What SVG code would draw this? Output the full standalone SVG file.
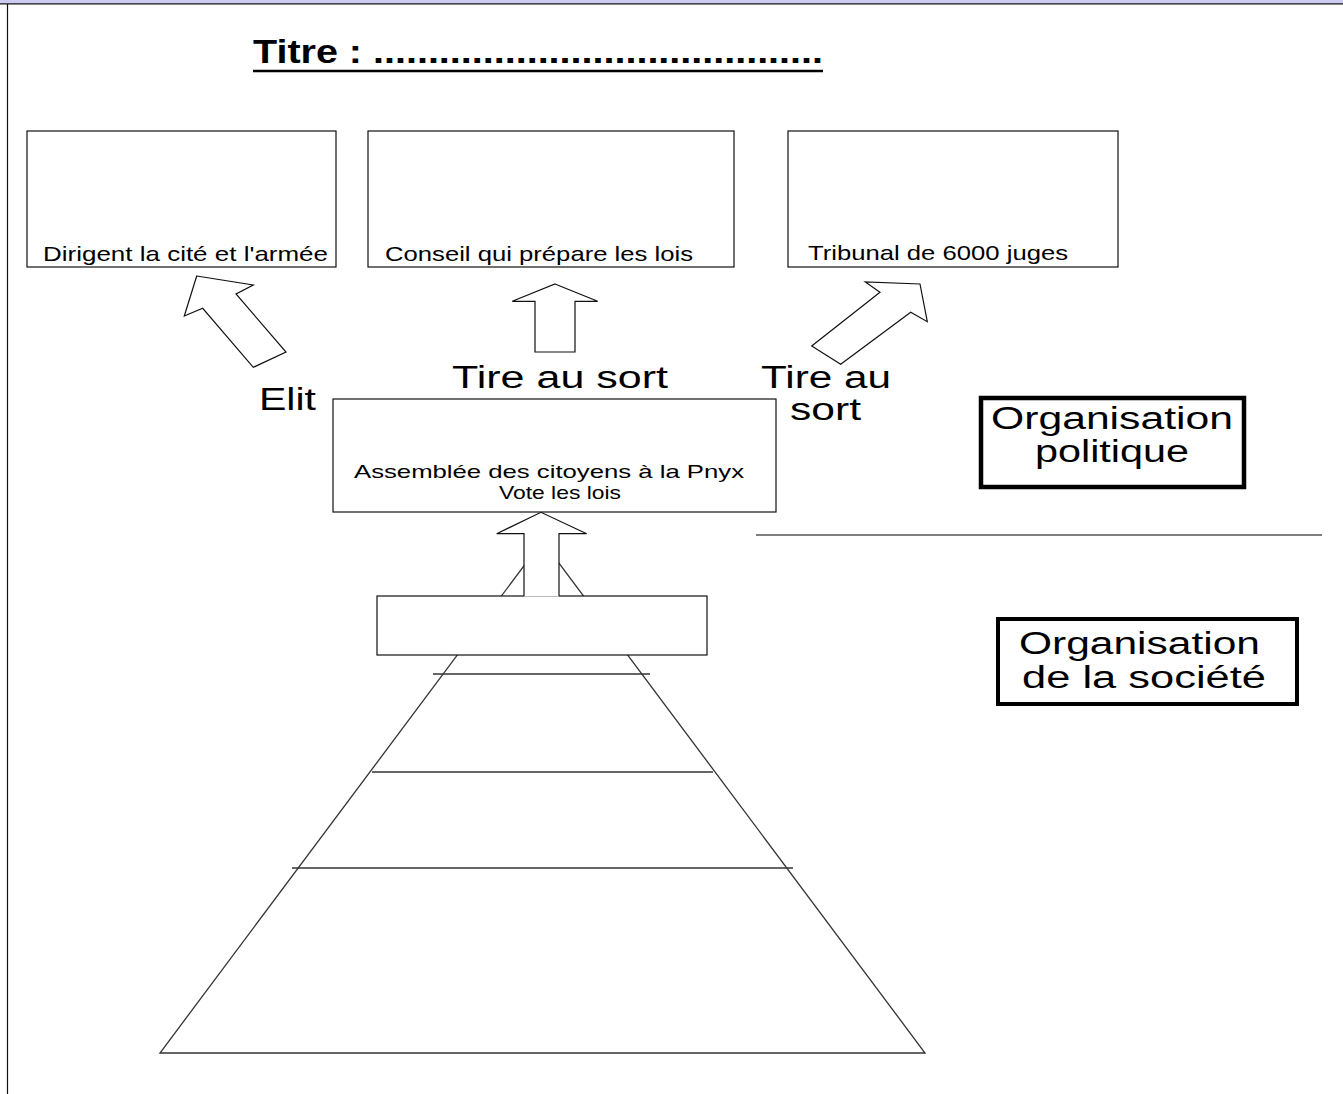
<svg xmlns="http://www.w3.org/2000/svg" width="1343" height="1094" viewBox="0 0 1343 1094">
<style>
.box{fill:#fff;stroke:#111;stroke-width:1.2}
.thick{fill:#fff;stroke:#000;stroke-width:4.5}
.arr{fill:#fff;stroke:#111;stroke-width:1.2;stroke-linejoin:miter}
.ln{stroke:#333;stroke-width:1.3;fill:none}
.sm{font-family:"Liberation Sans",Arial,sans-serif;font-size:21px;fill:#000}
.as{font-family:"Liberation Sans",Arial,sans-serif;font-size:18.5px;fill:#000}
.lg{font-family:"Liberation Sans",Arial,sans-serif;font-size:31px;fill:#000}
.tt{font-family:"Liberation Sans",Arial,sans-serif;font-size:34px;font-weight:bold;fill:#000}
</style>
<rect x="0" y="0" width="1343" height="1094" fill="#fff"/>
<rect x="0" y="0" width="1343" height="3.5" fill="#cbcbf4"/>
<line x1="0" y1="3.8" x2="1343" y2="3.8" stroke="#111" stroke-width="1.2"/>
<line x1="7.5" y1="4" x2="7.5" y2="1094" stroke="#111" stroke-width="1.2"/>

<g id="title">
<text x="253" y="63" class="tt" textLength="570" lengthAdjust="spacingAndGlyphs">Titre : .........................................</text>
<line x1="253" y1="71" x2="823" y2="71" stroke="#000" stroke-width="2.5"/>
</g>

<g id="pyramid">
<polygon points="160,1053 925,1053 542.5,541" class="ln"/>
<line x1="433" y1="674" x2="650" y2="674" class="ln"/>
<line x1="372" y1="772" x2="713" y2="772" class="ln"/>
<line x1="292" y1="868" x2="793" y2="868" class="ln"/>
</g>

<g id="pyramid-top">
<rect x="377" y="596" width="330" height="59" class="box"/>
</g>

<g id="box-dirigent">
<rect x="27" y="131" width="309" height="136" class="box"/>
<text x="43" y="261" class="sm" textLength="285" lengthAdjust="spacingAndGlyphs">Dirigent la cité et l'armée</text>
</g>

<g id="box-conseil">
<rect x="368" y="131" width="366" height="136" class="box"/>
<text x="385" y="261" class="sm" textLength="308" lengthAdjust="spacingAndGlyphs">Conseil qui prépare les lois</text>
</g>

<g id="box-tribunal">
<rect x="788" y="131" width="330" height="136" class="box"/>
<text x="808" y="260" class="sm" textLength="260" lengthAdjust="spacingAndGlyphs">Tribunal de 6000 juges</text>
</g>

<g id="box-assemblee">
<rect x="333" y="399" width="443" height="113" class="box"/>
<text x="354" y="478" class="as" textLength="390" lengthAdjust="spacingAndGlyphs">Assemblée des citoyens à la Pnyx</text>
<text x="499" y="499" class="as" textLength="122" lengthAdjust="spacingAndGlyphs">Vote les lois</text>
</g>

<g id="box-org-politique">
<rect x="981" y="398" width="263" height="89" class="thick"/>
<text x="991" y="429" class="lg" textLength="242" lengthAdjust="spacingAndGlyphs">Organisation</text>
<text x="1035" y="462" class="lg" textLength="154" lengthAdjust="spacingAndGlyphs">politique</text>
</g>

<line id="separator" x1="756" y1="535" x2="1322" y2="535" stroke="#555" stroke-width="1.5"/>

<g id="box-org-societe">
<rect x="998" y="619" width="299" height="85" class="thick" style="stroke-width:4"/>
<text x="1019" y="654" class="lg" textLength="241" lengthAdjust="spacingAndGlyphs">Organisation</text>
<text x="1022" y="688" class="lg" textLength="244" lengthAdjust="spacingAndGlyphs">de la société</text>
</g>

<g id="connectors">
<polygon points="196.7,276 253.3,285 236,294 286,352 253.3,367.3 202.7,308.3 184.3,316" class="arr"/>
<polygon points="555,284 597.7,301.3 575,301.3 575,352 535,352 535,301.3 512.3,301.3" class="arr"/>
<polygon points="920,284 927.3,321.7 910.7,312.3 840.7,364.3 811.7,346 880,292.3 865.3,282" class="arr"/>
<polygon points="541,512.3 586.7,533.7 559,533.7 559,596.6 524,596.6 524,533.7 496.7,533.7" fill="#fff" stroke="none"/>
<polyline points="524,596 524,533.7 496.7,533.7 541,512.3 586.7,533.7 559,533.7 559,596" fill="none" stroke="#111" stroke-width="1.2"/>
</g>

<g id="labels">
<text x="452" y="388" class="lg" textLength="216" lengthAdjust="spacingAndGlyphs">Tire au sort</text>
<text x="259" y="410" class="lg" textLength="57" lengthAdjust="spacingAndGlyphs">Elit</text>
<text x="761" y="388" class="lg" textLength="130" lengthAdjust="spacingAndGlyphs">Tire au</text>
<text x="790" y="420" class="lg" textLength="71" lengthAdjust="spacingAndGlyphs">sort</text>
</g>
</svg>
